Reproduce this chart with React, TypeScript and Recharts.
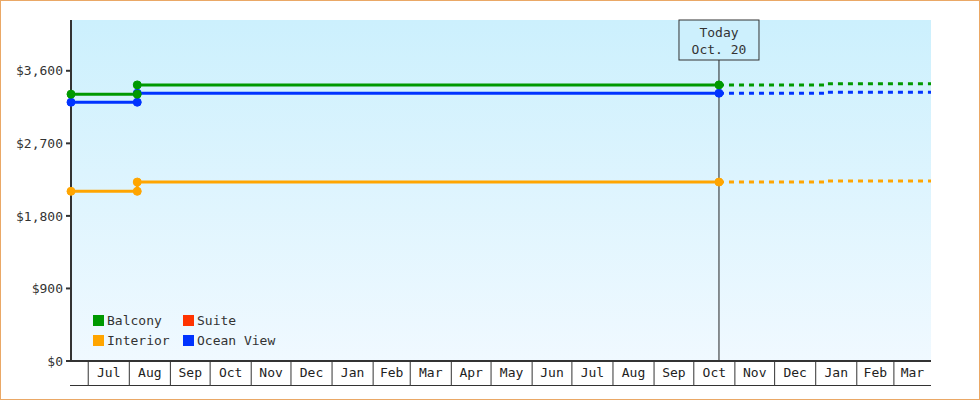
import React from "react";
import { LineChart, Line, XAxis, YAxis, CartesianGrid, ReferenceLine } from "recharts";

const FONT = "'DejaVu Sans Mono', monospace";
const DAY = 86400000;
const day = (s: string) => Math.round(Date.parse(s + "T00:00:00Z") / DAY);

// timeline
const START = day("2021-06-18");
const END = day("2023-03-29");
const STEP_DATE = day("2021-08-07");
const TODAY = day("2022-10-20");
const FUTURE_STEP = day("2023-01-09");

const monthLabels = ["Jul", "Aug", "Sep", "Oct", "Nov", "Dec", "Jan", "Feb", "Mar", "Apr", "May", "Jun",
  "Jul", "Aug", "Sep", "Oct", "Nov", "Dec", "Jan", "Feb", "Mar"];
const monthStarts = monthLabels.map((_, i) => Math.round(Date.UTC(2021, 6 + i, 1) / DAY));
const xTicks = [START, ...monthStarts];

// prices: before step, after step, after future step
const balcony = [3310, 3425, 3438];
const interior = [2105, 2220, 2232];
const oceanView = [3210, 3322, 3335];
const yTicks = [0, 900, 1800, 2700, 3600];

const legendItems = [
  { name: "Balcony", color: "#009900" },
  { name: "Suite", color: "#ff3300" },
  { name: "Interior", color: "#ffa500" },
  { name: "Ocean View", color: "#0033ff" },
];

const solid = (v: number[]) => [
  { x: START, y: v[0] },
  { x: STEP_DATE, y: v[0] },
  { x: STEP_DATE, y: v[1] },
  { x: TODAY, y: v[1] },
];
const dashed = (v: number[]) => [
  { x: TODAY, y: v[1] },
  { x: FUTURE_STEP, y: v[1] },
  { x: FUTURE_STEP, y: v[2] },
  { x: END, y: v[2] },
];

const series = [
  { name: "Ocean View", color: "#0033ff", values: oceanView },
  { name: "Interior", color: "#ffa500", values: interior },
  { name: "Balcony", color: "#009900", values: balcony },
];

const W = 980;
const H = 400;
const PLOT_LEFT = 71;
const PLOT_RIGHT = 931;
const PX_PER_DAY = (PLOT_RIGHT - PLOT_LEFT) / (END - START);

const XTick = (props: any) => {
  const { x, y, payload } = props;
  const i = xTicks.indexOf(payload.value);
  const next = i < xTicks.length - 1 ? xTicks[i + 1] : END;
  const w = (next - payload.value) * PX_PER_DAY;
  return (
    <g>
      {i > 0 && <line x1={x} y1={y} x2={x} y2={y + 25} stroke="#333" />}
      <line x1={x - (i === 0 ? 1 : 0)} y1={y + 24.5} x2={x + w} y2={y + 24.5} stroke="#333" />
      {i > 0 && (
        <text x={x + w / 2} y={y + 16} textAnchor="middle" fill="#222" fontSize={13} fontFamily={FONT}>
          {monthLabels[i - 1]}
        </text>
      )}
    </g>
  );
};

const TodayLabel = (props: any) => {
  const { viewBox } = props;
  const cx = viewBox.x;
  const top = viewBox.y;
  return (
    <g>
      <rect x={cx - 40} y={top} width={80} height={40} fill="#cdf0fd" stroke="#333" />
      <text x={cx} y={top + 17} textAnchor="middle" fill="#333" fontSize={13} fontFamily={FONT}>Today</text>
      <text x={cx} y={top + 34} textAnchor="middle" fill="#333" fontSize={13} fontFamily={FONT}>Oct. 20</text>
    </g>
  );
};

export default function App() {
  return (
    <div style={{ position: "absolute", left: 0, top: 0, width: W, height: H, background: "#fff" }}>
      <LineChart width={W} height={H} margin={{ top: 20, right: W - PLOT_RIGHT, bottom: 0, left: 0 }}>
        <defs>
          <linearGradient id="bg" x1="0" y1="0" x2="0" y2="1">
            <stop offset="0%" stopColor="#ccf0fd" />
            <stop offset="100%" stopColor="#f0f9ff" />
          </linearGradient>
        </defs>
        <CartesianGrid fill="url(#bg)" stroke="none" horizontal={false} vertical={false} />
        <XAxis
          type="number"
          dataKey="x"
          domain={[START, END]}
          ticks={xTicks}
          interval={0}
          height={39}
          tickSize={0}
          tickMargin={0}
          tickLine={false}
          axisLine={{ stroke: "#333", strokeWidth: 2 }}
          tick={<XTick />}
        />
        <YAxis
          type="number"
          width={PLOT_LEFT}
          domain={[0, 4230]}
          ticks={yTicks}
          tickSize={5}
          tickMargin={3}
          axisLine={{ stroke: "#333", strokeWidth: 2 }}
          tickLine={{ stroke: "#333", strokeWidth: 2 }}
          tick={{ fill: "#333", fontSize: 13, fontFamily: FONT }}
          tickFormatter={(v: number) => "$" + v.toLocaleString("en-US")}
        />
        <ReferenceLine x={TODAY} stroke="#222" strokeWidth={1} label={<TodayLabel />} />
        {series.map((s) => (
          <Line
            key={s.name + "-future"}
            data={dashed(s.values)}
            dataKey="y"
            type="linear"
            stroke={s.color}
            strokeWidth={3}
            strokeDasharray="5 5"
            dot={false}
            activeDot={false}
            isAnimationActive={false}
          />
        ))}
        {series.map((s) => (
          <Line
            key={s.name}
            data={solid(s.values)}
            dataKey="y"
            type="linear"
            stroke={s.color}
            strokeWidth={3}
            dot={{ r: 4, fill: s.color, stroke: s.color, strokeWidth: 1 }}
            activeDot={false}
            isAnimationActive={false}
          />
        ))}
      </LineChart>
      <div
        style={{
          position: "absolute",
          left: 93,
          top: 312,
          display: "grid",
          gridTemplateColumns: "90px 110px",
          rowGap: 3,
          fontFamily: FONT,
          fontSize: 13,
          color: "#333",
        }}
      >
        {legendItems.map((it) => (
          <div key={it.name} style={{ display: "flex", alignItems: "center", height: 17 }}>
            <span style={{ width: 11, height: 11, background: it.color, marginRight: 3, display: "inline-block" }} />
            {it.name}
          </div>
        ))}
      </div>
      <div
        style={{
          position: "absolute",
          left: 0,
          top: 0,
          width: W,
          height: H,
          boxSizing: "border-box",
          border: "1px solid #eaa866",
          pointerEvents: "none",
        }}
      />
    </div>
  );
}
